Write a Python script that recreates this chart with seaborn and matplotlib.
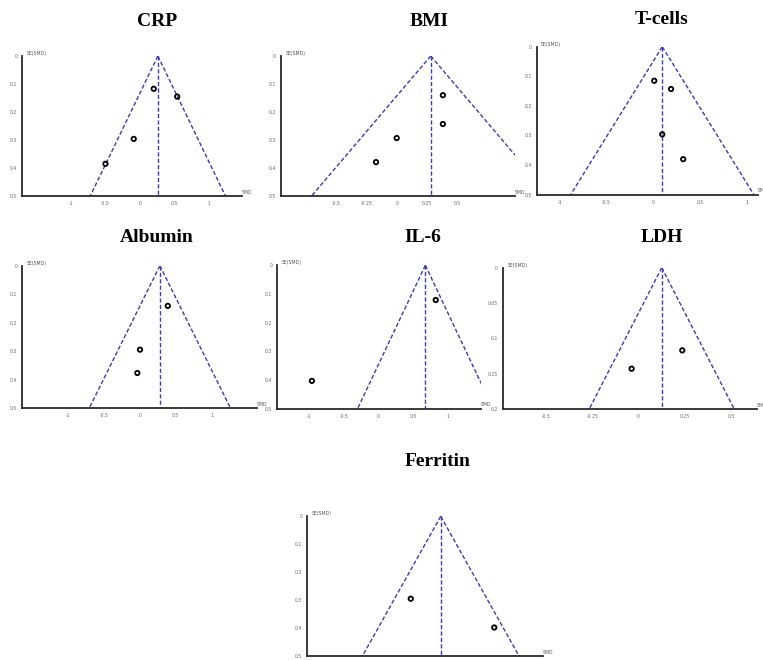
import numpy as np
import pandas as pd
import matplotlib
matplotlib.use("Agg")
import matplotlib.pyplot as plt
import seaborn as sns

# ---------------- data ----------------
panels = ["CRP", "BMI", "T-cells", "Albumin", "IL-6", "LDH", "Ferritin"]

crp_smd = [0.20, 0.54, -0.09, -0.50]
crp_se = [0.117, 0.145, 0.296, 0.385]
crp_pooled = 0.26

bmi_smd = [0.38, 0.38, 0.00, -0.17]
bmi_se = [0.140, 0.243, 0.293, 0.379]
bmi_pooled = 0.28

tcell_smd = [0.01, 0.19, 0.096, 0.32]
tcell_se = [0.115, 0.143, 0.296, 0.380]
tcell_pooled = 0.096

albumin_smd = [0.39, 0.004, -0.033]
albumin_se = [0.141, 0.295, 0.377]
albumin_pooled = 0.28

il6_smd = [0.83, -0.96]
il6_se = [0.121, 0.403]
il6_pooled = 0.68

ldh_smd = [0.236, -0.038]
ldh_se = [0.117, 0.143]
ldh_pooled = 0.125

ferritin_smd = [-0.175, 0.87]
ferritin_se = [0.295, 0.398]
ferritin_pooled = 0.20

se_ticks_main = [0, 0.1, 0.2, 0.3, 0.4, 0.5]
se_tick_labels_main = ["0", "0.1", "0.2", "0.3", "0.4", "0.5"]
se_ticks_ldh = [0, 0.05, 0.1, 0.15, 0.2]
se_tick_labels_ldh = ["0", "0.05", "0.1", "0.15", "0.2"]
smd_ticks_wide = [-1, -0.5, 0, 0.5, 1]
smd_labels_wide = ["-1", "-0.5", "0", "0.5", "1"]
smd_ticks_narrow = [-0.5, -0.25, 0, 0.25, 0.5]
smd_labels_narrow = ["-0.5", "-0.25", "0", "0.25", "0.5"]

records = []
for name, xs, ys in [("CRP", crp_smd, crp_se), ("BMI", bmi_smd, bmi_se),
                     ("T-cells", tcell_smd, tcell_se), ("Albumin", albumin_smd, albumin_se),
                     ("IL-6", il6_smd, il6_se), ("LDH", ldh_smd, ldh_se),
                     ("Ferritin", ferritin_smd, ferritin_se)]:
    for x, y in zip(xs, ys):
        records.append({"panel": name, "SMD": x, "SE": y})
df = pd.DataFrame(records)

pooled = {"CRP": crp_pooled, "BMI": bmi_pooled, "T-cells": tcell_pooled,
          "Albumin": albumin_pooled, "IL-6": il6_pooled, "LDH": ldh_pooled,
          "Ferritin": ferritin_pooled}

# ---------------- layout (pixels) ----------------
W, H = 763, 660
layout = {
    "CRP":      dict(box=(22, 242, 56, 196), xlim=(-1.71, 1.48), semax=0.5, xt="wide", title=(157, 21)),
    "BMI":      dict(box=(280.7, 515, 56, 196), xlim=(-0.954, 0.973), semax=0.5, xt="narrow", title=(429, 21)),
    "T-cells":  dict(box=(536.7, 758, 46.7, 194.7), xlim=(-1.247, 1.12), semax=0.5, xt="wide", title=(662, 20)),
    "Albumin":  dict(box=(22, 256.7, 265.7, 408), xlim=(-1.635, 1.625), semax=0.5, xt="wide", title=(157, 238)),
    "IL-6":     dict(box=(277.3, 480.7, 265.3, 408.7), xlim=(-1.46, 1.48), semax=0.5, xt="wide", title=(423, 238)),
    "LDH":      dict(box=(502.7, 757, 267.7, 409), xlim=(-0.735, 0.64), semax=0.2, xt="narrow", title=(662, 238)),
    "Ferritin": dict(box=(307.3, 543, 516.3, 656), xlim=(-1.47, 1.48), semax=0.5, xt="wide", title=(438, 461)),
}

sns.set_style("white")
plt.rcParams['font.family'] = ['DejaVu Sans']

fig = plt.figure(figsize=(W / 100, H / 100), dpi=100)
fig.patch.set_facecolor("white")

line_color = "#3c3cab"
spine_color = "#2a2a2a"
tick_font = 3.3

for name in panels:
    L = layout[name]
    l, r, t, b = L["box"]
    ax = fig.add_axes([l / W, 1 - b / H, (r - l) / W, (b - t) / H])
    ax.set_facecolor("white")
    semax = L["semax"]
    m = pooled[name]

    # funnel lines (pooled estimate +/- 1.96 SE)
    ax.plot([m, m - 1.96 * semax], [0, semax], color=line_color, lw=1.0, ls=(0, (3, 1.6)))
    ax.plot([m, m + 1.96 * semax], [0, semax], color=line_color, lw=1.0, ls=(0, (3, 1.6)))
    ax.plot([m, m], [0, semax], color=line_color, lw=1.0, ls=(0, (3, 1.6)))

    sub = df[df["panel"] == name]
    sns.scatterplot(data=sub, x="SMD", y="SE", ax=ax, marker="o", s=10,
                    fc="none", ec="black", linewidth=1.3, clip_on=False, zorder=5)

    ax.set_xlim(*L["xlim"])
    ax.set_ylim(semax, 0)
    if semax == 0.2:
        ax.set_yticks(se_ticks_ldh)
        ax.set_yticklabels(se_tick_labels_ldh)
    else:
        ax.set_yticks(se_ticks_main)
        ax.set_yticklabels(se_tick_labels_main)
    if L["xt"] == "wide":
        ax.set_xticks(smd_ticks_wide)
        ax.set_xticklabels(smd_labels_wide)
    else:
        ax.set_xticks(smd_ticks_narrow)
        ax.set_xticklabels(smd_labels_narrow)

    ax.set_xlabel("")
    ax.set_ylabel("")
    for s in ["top", "right"]:
        ax.spines[s].set_visible(False)
    for s in ["left", "bottom"]:
        ax.spines[s].set_color(spine_color)
        ax.spines[s].set_linewidth(1.3)
    ax.tick_params(axis="both", direction="inout", length=4, width=1.0,
                   colors=spine_color, labelsize=tick_font, labelcolor="#666666", pad=1.5)

    ax.text(0.02, 1.0, "SE(SMD)", transform=ax.transAxes, fontsize=tick_font,
            color="#555555", ha="left", va="bottom")
    ax.text(1.0, 0.01, "SMD", transform=ax.transAxes, fontsize=tick_font,
            color="#555555", ha="left", va="bottom", clip_on=False)

    tx, ty = L["title"]
    fig.text(tx / W, 1 - ty / H, name, family=["Liberation Serif", "DejaVu Serif"],
             fontweight="bold", fontsize=14, color="black", ha="center", va="center")

fig.savefig("out.png", dpi=100, facecolor="white")
